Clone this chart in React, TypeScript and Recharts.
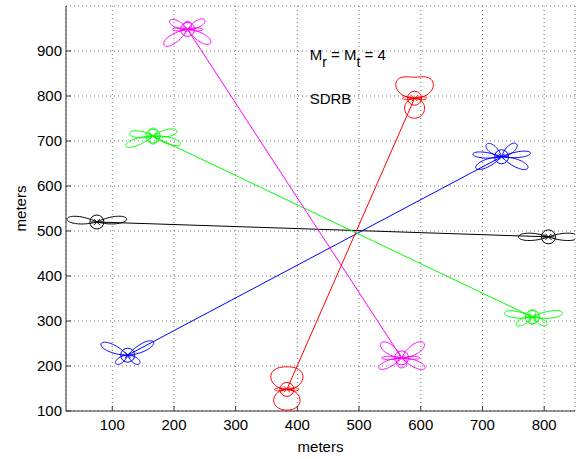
import React from "react";
import {
  ScatterChart,
  Scatter,
  XAxis,
  YAxis,
  CartesianGrid,
  ReferenceDot,
} from "recharts";

// node pairs (meters): each link joins FROM -> TO
const LINKS = ["black", "blue", "green", "magenta", "red"];
const FROM_X = [75, 125, 166, 222, 383];
const FROM_Y = [520, 224, 711, 948, 148];
const TO_X = [807, 731, 781, 569, 590];
const TO_Y = [487, 665, 309, 218, 795];

const X_TICKS = [100, 200, 300, 400, 500, 600, 700, 800];
const Y_TICKS = [100, 200, 300, 400, 500, 600, 700, 800, 900];

const COLORS: Record<string, string> = {
  black: "#000000",
  blue: "#0000ff",
  green: "#00ff00",
  magenta: "#ff00ff",
  red: "#ff0000",
};

// beam pattern glyphs, petals as [angle deg, length px, spread, bulge]
type Petal = [number, number, number, number];
const GLYPHS: Record<string, Petal[]> = {
  "black-0": [[185.6, 30, 0.22, 0], [-5.8, 30, 0.22, 0]],
  "black-1": [[180, 30, 0.22, 0], [0, 30, 0.22, 0]],
  "blue-0": [[203.4, 29, 0.25, 0], [-27, 29, 0.25, 0], [145, 14.6, 0.37, 0], [34.7, 14.6, 0.37, 0]],
  "blue-1": [
    [219.6, 19.5, 0.36, 0], [-40.3, 19.7, 0.36, 0],
    [185.4, 28.8, 0.18, 0], [-7.3, 29.2, 0.18, 0],
    [156.3, 28.1, 0.25, 0], [23.3, 28.6, 0.25, 0],
  ],
  "green-0": [
    [186.6, 23.6, 0.26, 0], [160, 29, 0.22, 0],
    [-11.8, 24.5, 0.26, 0], [16.3, 28.5, 0.22, 0],
    [-90, 8, 1, 0], [90, 8, 1, 0],
  ],
  "green-1": [
    [188, 28.3, 0.21, 0], [-7.6, 30.3, 0.21, 0],
    [154, 18, 0.31, 0], [29, 16.6, 0.31, 0],
    [-90, 7, 1, 0], [90, 7, 1, 0],
  ],
  "magenta-0": [
    [205.9, 19.7, 0.32, 0], [-28.3, 19.6, 0.32, 0],
    [146.1, 28.2, 0.29, 0], [30.8, 26.8, 0.29, 0],
    [180, 15, 0.18, 0], [0, 15, 0.18, 0], [-90, 8, 1, 0],
  ],
  "magenta-1": [
    [215.4, 25.4, 0.34, 0], [-33.4, 26.7, 0.34, 0],
    [155.6, 24.9, 0.25, 0], [23.8, 25.5, 0.25, 0],
    [180, 20, 0.14, 0], [0, 18, 0.14, 0], [90, 10, 1, 0],
  ],
  "red-0": [[-90, 22.6, 1, 0.75], [90, 20.7, 1, 0.5], [180, 12, 0.22, 0], [0, 12, 0.22, 0]],
  "red-1": [[-90, 21, 1, 1.35], [90, 20, 1, 0], [180, 12, 0.22, 0], [0, 12, 0.22, 0]],
};

const FONT = "'Liberation Sans', Arial, Helvetica, sans-serif";

function petalPath(cx: number, cy: number, p: Petal) {
  const [a, L, s, b] = p;
  const pts: string[] = [];
  for (let i = 0; i <= 48; i++) {
    const t = -Math.PI / 2 + (Math.PI * i) / 48;
    const r = L * Math.cos(t) * (1 + b * Math.sin(t) ** 2);
    const phi = (a * Math.PI) / 180 + s * t;
    pts.push(`${(cx + r * Math.cos(phi)).toFixed(2)},${(cy + r * Math.sin(phi)).toFixed(2)}`);
  }
  return "M" + pts.join("L") + "Z";
}

function Glyph(props: any) {
  const { cx, cy, payload } = props;
  if (cx == null || cy == null) return null;
  const color = COLORS[payload.link];
  const petals = GLYPHS[`${payload.link}-${payload.end}`] || [];
  return (
    <g fill="none" stroke={color} strokeWidth={1}>
      {petals.map((p, i) => (
        <path key={i} d={petalPath(cx, cy, p)} />
      ))}
      <circle cx={cx} cy={cy} r={7} />
      <path d={`M${cx - 3},${cy - 3}L${cx + 3},${cy + 3}M${cx - 3},${cy + 3}L${cx + 3},${cy - 3}M${cx - 6},${cy}L${cx + 6},${cy}`} />
    </g>
  );
}

function XTick(props: any) {
  const { x, y, payload } = props;
  return (
    <g>
      <line x1={x} y1={y} x2={x} y2={y - 5} stroke="#333" />
      <text x={x} y={y + 19} textAnchor="middle" fontSize={15} fontFamily={FONT} fill="#000">
        {payload.value}
      </text>
    </g>
  );
}

function YTick(props: any) {
  const { x, y, payload } = props;
  return (
    <g>
      <line x1={x} y1={y} x2={x + 5} y2={y} stroke="#333" />
      <text x={x - 4} y={y + 5.3} textAnchor="end" fontSize={15} fontFamily={FONT} fill="#000">
        {payload.value}
      </text>
    </g>
  );
}

export default function App() {
  const series = LINKS.map((link, i) => ({
    link,
    data: [
      { x: FROM_X[i], y: FROM_Y[i], link, end: 0 },
      { x: TO_X[i], y: TO_Y[i], link, end: 1 },
    ],
  }));

  return (
    <div style={{ position: "absolute", left: 0, top: 0, background: "#fff" }}>
      <ScatterChart width={578} height={459} margin={{ top: 6, right: 3, bottom: 0, left: 0 }}>
        <CartesianGrid stroke="#777" strokeDasharray="1 3" />
        <XAxis
          type="number"
          dataKey="x"
          domain={[25, 850]}
          ticks={X_TICKS}
          allowDataOverflow
          height={48}
          tickSize={0}
          tickMargin={0}
          tick={<XTick />}
          axisLine={{ stroke: "#333" }}
          label={{
            content: (p: any) => (
              <text
                x={p.viewBox.x + p.viewBox.width / 2}
                y={452}
                textAnchor="middle"
                fontSize={15}
                fontFamily={FONT}
              >
                meters
              </text>
            ),
          }}
        />
        <YAxis
          type="number"
          dataKey="y"
          domain={[100, 1000]}
          ticks={Y_TICKS}
          allowDataOverflow
          width={66}
          tickSize={0}
          tickMargin={0}
          tick={<YTick />}
          axisLine={{ stroke: "#333" }}
          label={{
            content: (p: any) => {
              const cy = p.viewBox.y + p.viewBox.height / 2;
              return (
                <text
                  x={26}
                  y={cy}
                  transform={`rotate(-90 26 ${cy})`}
                  textAnchor="middle"
                  fontSize={15}
                  fontFamily={FONT}
                >
                  meters
                </text>
              );
            },
          }}
        />
        {series.map((s) => (
          <Scatter
            key={s.link}
            data={s.data}
            line={{ stroke: COLORS[s.link], strokeWidth: 1 }}
            lineType="joint"
            shape={<Glyph />}
            isAnimationActive={false}
          />
        ))}
        <ReferenceDot
          x={420}
          y={880}
          r={0}
          shape={(p: any) => (
            <text x={p.cx} y={p.cy} fontSize={15} fontFamily={FONT} fill="#000">
              M<tspan dy={7} fontSize={14}>r</tspan>
              <tspan dy={-7}> = M</tspan>
              <tspan dy={7} fontSize={14}>t</tspan>
              <tspan dy={-7}> = 4</tspan>
            </text>
          )}
        />
        <ReferenceDot
          x={420}
          y={782}
          r={0}
          shape={(p: any) => (
            <text x={p.cx} y={p.cy} fontSize={15} fontFamily={FONT} fill="#000">
              SDRB
            </text>
          )}
        />
      </ScatterChart>
    </div>
  );
}
